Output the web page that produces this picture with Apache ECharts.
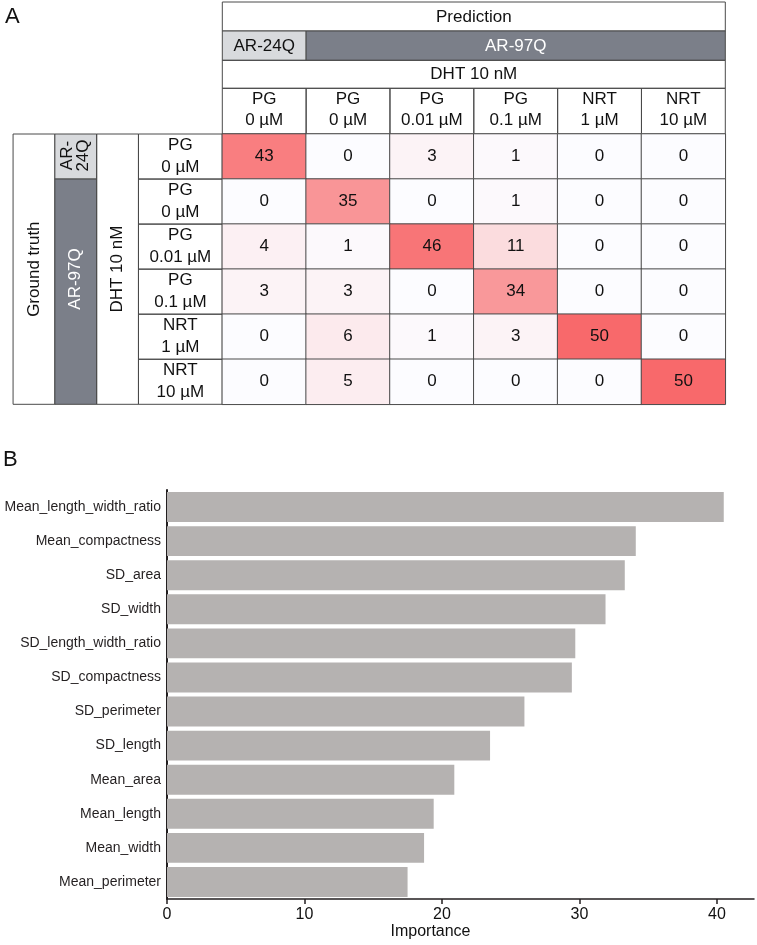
<!DOCTYPE html>
<html>
<head>
<meta charset="utf-8">
<script src="https://cdn.jsdelivr.net/npm/echarts@6/dist/echarts.min.js"></script>
<style>
  html, body { margin: 0; padding: 0; background: #fff; }
  #chart { width: 757px; height: 945px; }
</style>
</head>
<body>
<div id="chart"></div>
<script>
// 混淆矩阵 (A) + 特征重要性 (B)
var predLabels = ['PG\n0 µM', 'PG\n0 µM', 'PG\n0.01 µM', 'PG\n0.1 µM', 'NRT\n1 µM', 'NRT\n10 µM'];
var truthLabels = ['PG\n0 µM', 'PG\n0 µM', 'PG\n0.01 µM', 'PG\n0.1 µM', 'NRT\n1 µM', 'NRT\n10 µM'];
// rows = ground truth, cols = prediction
var confusion = [
  [43, 0, 3, 1, 0, 0],
  [0, 35, 0, 1, 0, 0],
  [4, 1, 46, 11, 0, 0],
  [3, 3, 0, 34, 0, 0],
  [0, 6, 1, 3, 50, 0],
  [0, 5, 0, 0, 0, 50]
];

var features = ['Mean_length_width_ratio', 'Mean_compactness', 'SD_area', 'SD_width',
  'SD_length_width_ratio', 'SD_compactness', 'SD_perimeter', 'SD_length',
  'Mean_area', 'Mean_length', 'Mean_width', 'Mean_perimeter'];
var importance = [40.5, 34.1, 33.3, 31.9, 29.7, 29.45, 26.0, 23.5, 20.9, 19.4, 18.7, 17.5];
var importanceTicks = [0, 10, 20, 30, 40];

var FONT = 'Arial, "Liberation Sans", sans-serif';
var LINE = '#4a4a4a';
var LIGHT = '#d8dadd';
var DARK = '#7b7f89';

// table geometry
var TL = 222.3, TT = 134, TW = 503, TH = 270.3;
var CW = TW / 6, RH = TH / 6;
var HW = 41.8;

var heatData = [];
confusion.forEach(function (row, r) {
  row.forEach(function (v, c) { heatData.push([c, r, v]); });
});

function cell(x, y, w, h, fill) {
  return { type: 'rect', shape: { x: x, y: y, width: w, height: h },
    style: { fill: fill || 'transparent', stroke: LINE, lineWidth: 1 }, z: -1 };
}
function label(x, y, text, opt) {
  opt = opt || {};
  return { type: 'text', x: x, y: y, rotation: opt.rot || 0, z: 5,
    style: { text: text, fill: opt.color || '#111', font: (opt.size || 17) + 'px ' + FONT,
      align: 'center', verticalAlign: 'middle', lineHeight: opt.lh || 17 } };
}

var graphics = [];
// header rows on top
graphics.push(cell(TL, 2, TW, 29));
graphics.push(cell(TL, 31, CW, 29.3, LIGHT));
graphics.push(cell(TL + CW, 31, TW - CW, 29.3, DARK));
graphics.push(cell(TL, 60.3, TW, 28));
for (var i = 0; i < 6; i++) graphics.push(cell(TL + i * CW, 88.3, CW, TT - 88.3));
graphics.push(label(TL + TW / 2, 17, 'Prediction'));
graphics.push(label(TL + CW / 2, 46, 'AR-24Q'));
graphics.push(label(TL + CW + (TW - CW) / 2, 46, 'AR-97Q', { color: '#fff' }));
graphics.push(label(TL + TW / 2, 74.5, 'DHT 10 nM'));
// header columns on the left
var x0 = TL - CW - 3 * HW;
graphics.push(cell(x0, TT, HW, TH));
graphics.push(cell(x0 + HW, TT, HW, RH, LIGHT));
graphics.push(cell(x0 + HW, TT + RH, HW, TH - RH, DARK));
graphics.push(cell(x0 + 2 * HW, TT, TL - CW - x0 - 2 * HW, TH));
for (var j = 0; j < 6; j++) graphics.push(cell(TL - CW, TT + j * RH, CW, RH));
graphics.push(label(x0 + HW / 2, TT + TH / 2, 'Ground truth', { rot: Math.PI / 2 }));
graphics.push(label(x0 + HW * 1.5, TT + RH / 2 - 1, 'AR-\n24Q', { rot: Math.PI / 2, lh: 16 }));
graphics.push(label(x0 + HW * 1.5, 279, 'AR-97Q', { rot: Math.PI / 2, color: '#fff' }));
graphics.push(label(x0 + HW * 2.5, TT + TH / 2, 'DHT 10 nM', { rot: Math.PI / 2 }));
// panel letters
graphics.push({ type: 'text', left: 5, top: 6, z: 5,
  style: { text: 'A', fill: '#111', font: '22px ' + FONT } });
graphics.push({ type: 'text', left: 3, top: 449, z: 5,
  style: { text: 'B', fill: '#111', font: '22px ' + FONT } });

var chart = echarts.init(document.getElementById('chart'), null, { renderer: 'canvas' });
chart.setOption({
  animation: false,
  backgroundColor: '#fff',
  textStyle: { fontFamily: FONT },
  grid: [
    { left: TL, top: TT, width: TW, height: TH },
    { left: 167, top: 490, right: 3, bottom: 46 }
  ],
  visualMap: {
    show: false, seriesIndex: 0, min: 0, max: 50,
    inRange: { color: ['#fcfcff', '#f8696b'] }
  },
  xAxis: [
    {
      gridIndex: 0, type: 'category', position: 'top', data: predLabels,
      axisLine: { show: false }, axisTick: { show: false }, splitLine: { show: false },
      axisLabel: { margin: 3, color: '#111', fontSize: 17, lineHeight: 21, interval: 0 }
    },
    {
      gridIndex: 1, type: 'value', min: 0, max: 42.7, interval: 10,
      name: 'Importance', nameLocation: 'middle', nameGap: 25,
      nameTextStyle: { color: '#111', fontSize: 16, padding: [0, 60, 0, 0] },
      axisLine: { show: true, lineStyle: { color: '#231f20', width: 1.5 } },
      axisTick: { show: true, length: 5, customValues: importanceTicks, lineStyle: { color: '#231f20', width: 1.5 } },
      axisLabel: { customValues: importanceTicks, margin: 8, color: '#111', fontSize: 16 },
      splitLine: { show: false }
    }
  ],
  yAxis: [
    {
      gridIndex: 0, type: 'category', inverse: true, data: truthLabels,
      axisLine: { show: false }, axisTick: { show: false }, splitLine: { show: false },
      axisLabel: { margin: CW / 2, align: 'center', color: '#111', fontSize: 17, lineHeight: 22, interval: 0 }
    },
    {
      gridIndex: 1, type: 'category', inverse: true, data: features,
      axisLine: { show: true, lineStyle: { color: '#231f20', width: 2 } },
      axisTick: { show: false },
      axisLabel: { margin: 6, color: '#231f20', fontSize: 14, interval: 0 }
    }
  ],
  series: [
    {
      type: 'heatmap', xAxisIndex: 0, yAxisIndex: 0, data: heatData,
      label: { show: true, color: '#111', fontSize: 17 },
      itemStyle: { borderColor: LINE, borderWidth: 1 },
      emphasis: { disabled: true }
    },
    {
      type: 'bar', xAxisIndex: 1, yAxisIndex: 1, data: importance,
      barCategoryGap: '12%',
      itemStyle: { color: '#b5b2b1' }
    }
  ],
  graphic: graphics
});
</script>
</body>
</html>
